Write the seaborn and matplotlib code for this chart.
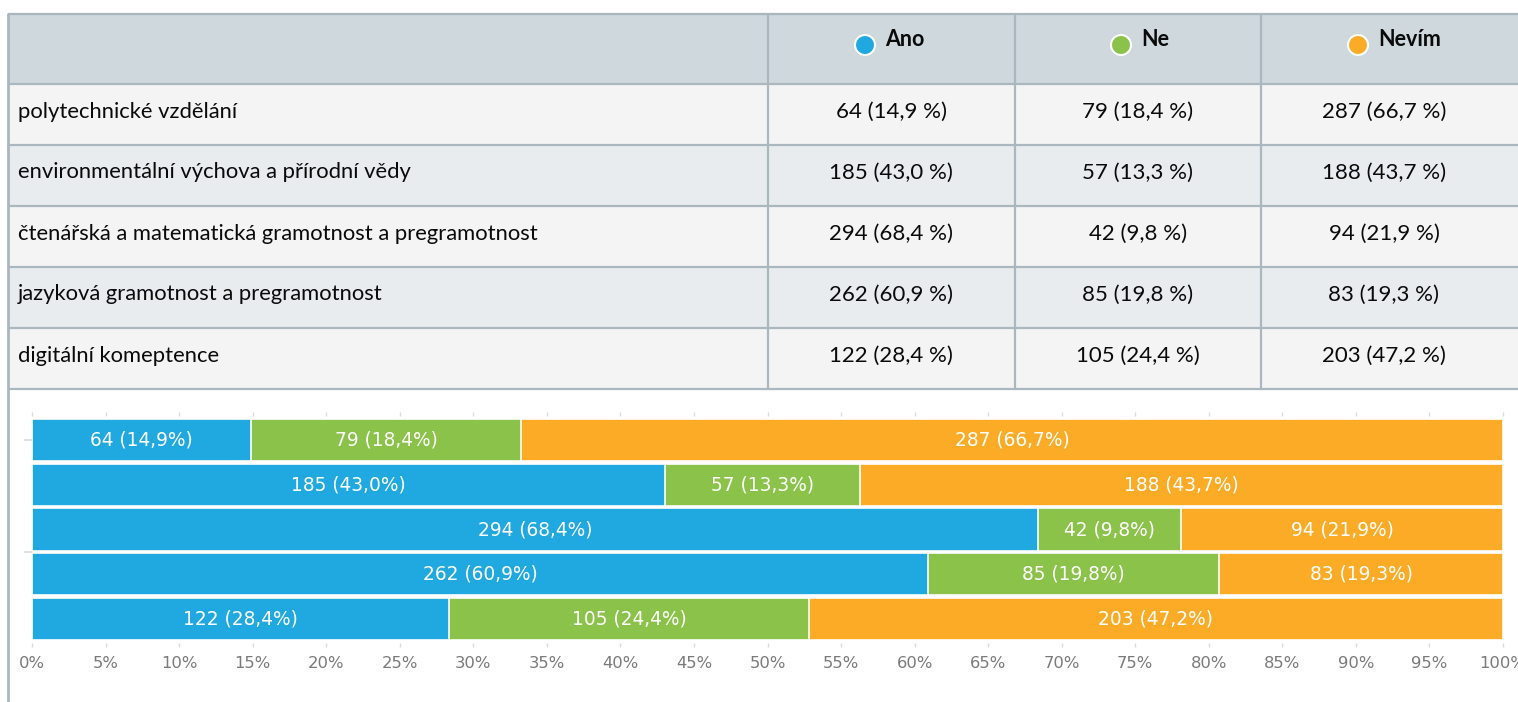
import numpy as np
import pandas as pd
import seaborn as sns
import matplotlib.pyplot as plt
from matplotlib.patches import Rectangle, Circle

# ---- data -------------------------------------------------------------
categories = [
    "polytechnické vzdělání",
    "environmentální výchova a přírodní vědy",
    "čtenářská a matematická gramotnost a pregramotnost",
    "jazyková gramotnost a pregramotnost",
    "digitální komeptence",
]
answers = ["Ano", "Ne", "Nevím"]
ano_counts = [64, 185, 294, 262, 122]
ne_counts = [79, 57, 42, 85, 105]
nevim_counts = [287, 188, 94, 83, 203]
answer_colors = ["#20a9e1", "#8bc34a", "#fbab26"]
x_ticks = list(range(0, 101, 5))

# ---- derived table ----------------------------------------------------
df = pd.DataFrame({"kategorie": categories,
                   "Ano": ano_counts, "Ne": ne_counts, "Nevím": nevim_counts})
totals = df[answers].sum(axis=1)
pct = df[answers].div(totals, axis=0) * 100


def fmt_pct(v, space=True):
    s = f"{v:.1f}".replace(".", ",")
    return s + (" %" if space else "%")


W, H = 1518, 702
sns.set_theme(style="white")
plt.rcParams["font.family"] = ["DejaVu Sans"]
fig = plt.figure(figsize=(W / 100, H / 100), dpi=100)
fig.patch.set_facecolor("white")

# ---- table drawn on a pixel-space overlay ------------------------------
tab = fig.add_axes([0, 0, 1, 1], zorder=0)
tab.set_xlim(0, W)
tab.set_ylim(H, 0)
tab.axis("off")

border = "#aab7be"
table_font = ["Lato", "DejaVu Sans"]
top, head_h, row_h = 14, 70, 61
x_left, x_right = 8, W + 5
col_edges = [768, 1015, 1261]
col_centers = [891, 1138, 1384]

tab.add_patch(Rectangle((x_left, top), x_right - x_left, head_h,
                        facecolor="#cfd8dc", edgecolor="none"))
row_fills = ["#f4f4f4", "#e8ecee"]
for i, cat in enumerate(df["kategorie"]):
    y0 = top + head_h + i * row_h
    tab.add_patch(Rectangle((x_left, y0), x_right - x_left, row_h,
                            facecolor=row_fills[i % 2], edgecolor="none"))
    tab.text(18, y0 + row_h / 2 - 3, cat, ha="left", va="center",
             fontsize=15.8, color="#0a0a0a", family=table_font)
    for j, a in enumerate(answers):
        tab.text(col_centers[j], y0 + row_h / 2 - 3,
                 f"{df[a][i]} ({fmt_pct(pct[a][i])})",
                 ha="center", va="center", fontsize=16, color="#0a0a0a",
                 family=table_font)

table_bottom = top + head_h + len(categories) * row_h
for yy in [top] + [top + head_h + k * row_h for k in range(len(categories) + 1)]:
    tab.plot([x_left, x_right], [yy, yy], color=border, lw=1.6,
             solid_capstyle="butt")
for xx in col_edges:
    tab.plot([xx, xx], [top, table_bottom], color=border, lw=1.6)
tab.plot([x_left, x_left], [top, H], color=border, lw=2)

# header: coloured markers with bold answer names
header_pos = [865, 1121, 1358]
for xc, a, c in zip(header_pos, answers, answer_colors):
    tab.add_patch(Circle((xc, 45), 10, facecolor=c, edgecolor="white", lw=1.5))
    tab.text(xc + 20, 40, a, ha="left", va="center", fontsize=15.5,
             fontweight="bold", color="#0a0a0a", family=table_font)

# ---- stacked bar chart ------------------------------------------------
ax = fig.add_axes([32 / W, (H - 643) / H, (1503 - 32) / W, 227 / H], zorder=1)
ax.set_facecolor("none")

cum = pct[answers].cumsum(axis=1)
plot_df = pd.DataFrame({"kategorie": df["kategorie"]})
# draw from the widest cumulative layer down so each segment stays visible
for a, c in reversed(list(zip(answers, answer_colors))):
    plot_df["hodnota"] = cum[a]
    sns.barplot(data=plot_df, x="hodnota", y="kategorie", orient="h",
                color=c, saturation=1, width=0.94, edgecolor="white",
                linewidth=1.2, ax=ax)

for i in range(len(categories)):
    left = 0.0
    for a in answers:
        w = pct[a][i]
        ax.text(left + w / 2, i, f"{df[a][i]} ({fmt_pct(w, space=False)})",
                ha="center", va="center", color="white", fontsize=13.4)
        left += w

ax.set_xlim(0, 100)
ax.set_ylim(4.536, -0.536)
ax.set_xticks(x_ticks)
ax.set_xticklabels([f"{t}%" for t in x_ticks], color="#7a7a7a", fontsize=11.8)
ax.set_yticks([0, 2.5])
ax.set_yticklabels([])
ax.set_xlabel("")
ax.set_ylabel("")
ax.tick_params(axis="x", which="both", top=True, bottom=True, length=3,
               color="#d5dde1", width=1, pad=6, direction="out")
ax.tick_params(axis="y", length=6, color="#d5dde1", width=1.2, left=True)
for s in ax.spines.values():
    s.set_visible(False)

fig.savefig("out.png", dpi=100, facecolor="white")
